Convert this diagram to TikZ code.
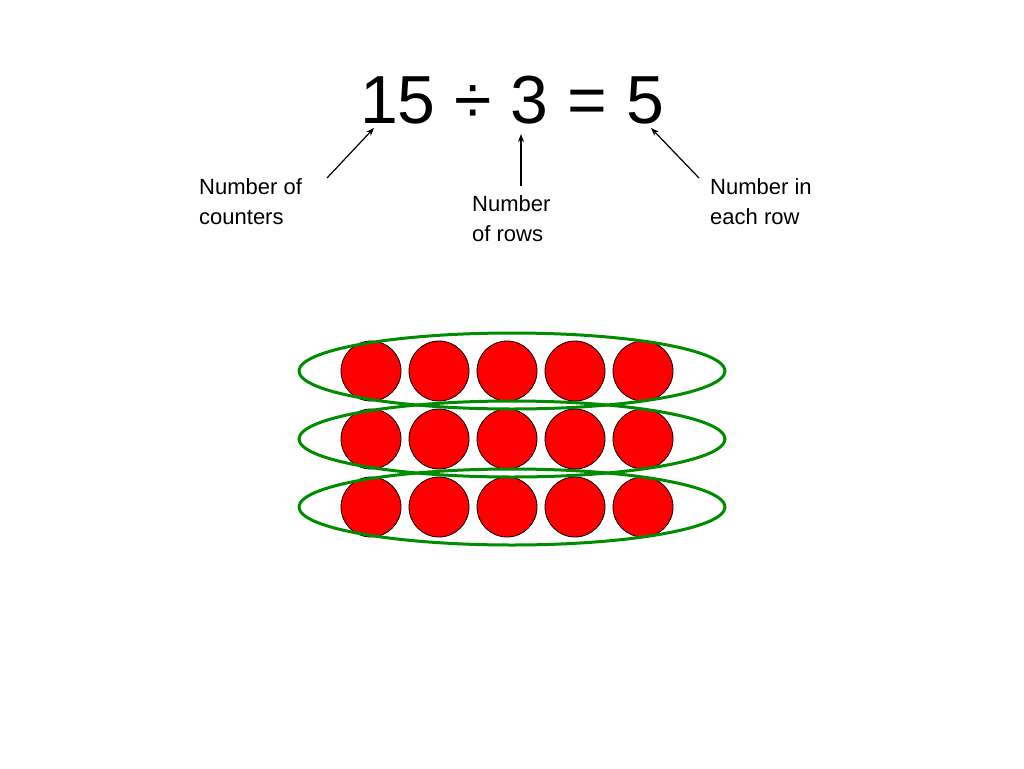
\documentclass[tikz,border=0pt]{standalone}
\usepackage{fontspec}
\setmainfont{Liberation Sans}
\usetikzlibrary{arrows.meta}
\begin{document}
\begin{tikzpicture}[x=1pt,y=-1pt,
  lbl/.style={align=left,anchor=north west,font=\fontsize{22}{30}\selectfont,inner sep=0pt},
  arr/.style={-{Stealth[length=8pt,width=6pt]},line width=1.2pt},
  counter/.style={circle,draw=black,line width=0.8pt,fill=red,minimum size=60pt,inner sep=0pt},
  ring/.style={draw=green!55!black,line width=3pt}]
\useasboundingbox (0,0) rectangle (1024,768);
\node[font=\fontsize{68}{70}\selectfont] (eq) at (512,100) {15 ÷ 3 = 5};
\node[lbl] (l1) at (199,178) {Number of\\counters};
\node[lbl] (l2) at (472,195) {Number\\of rows};
\node[lbl] (l3) at (710,178) {Number in\\each row};
\coordinate (a1s) at (327,178); \coordinate (a1e) at (374,128);
\coordinate (a2s) at (521,186); \coordinate (a2e) at (521,134);
\coordinate (a3s) at (699,178); \coordinate (a3e) at (651,128);
\draw[arr] (a1s) -- (a1e);
\draw[arr] (a2s) -- (a2e);
\draw[arr] (a3s) -- (a3e);
\foreach \r/\y in {1/371,2/439,3/507}{
  \foreach \c/\x in {1/371,2/439,3/507,4/575,5/643}{
    \node[counter] (c\r\c) at (\x,\y) {};
  }
}
\foreach \y in {371,439,507}{
  \draw[ring] (512,\y) ellipse [x radius=213, y radius=38];
}
\end{tikzpicture}
\end{document}
